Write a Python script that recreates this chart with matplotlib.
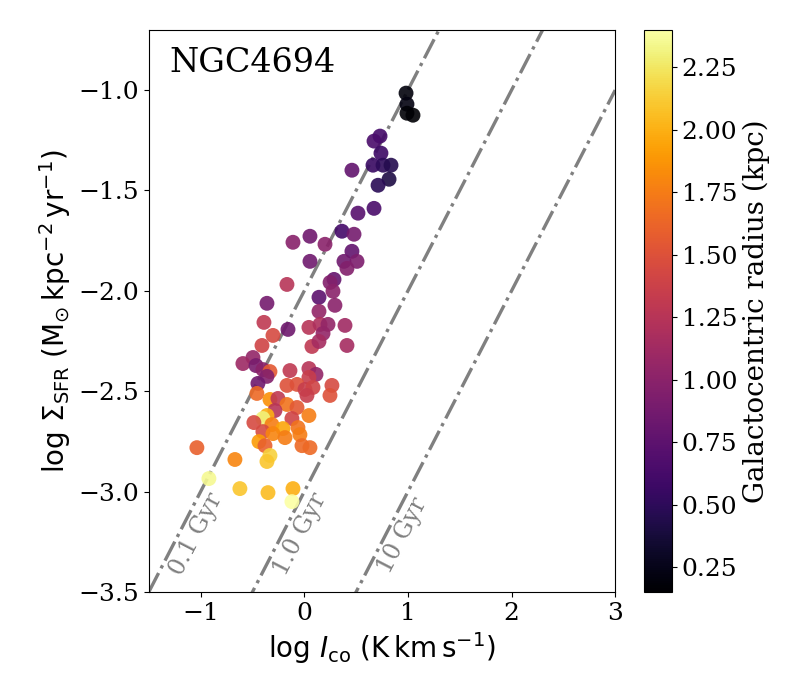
import numpy as np
import matplotlib
matplotlib.use('Agg')
import matplotlib.pyplot as plt

plt.rcParams['font.family'] = 'serif'
plt.rcParams['font.size'] = 18

#galaxy name
galaxy = 'NGC4694'

#log I_co (K km/s) per region
log_ico = [0.982, 0.991, 0.991, 1.049,
           0.731, 0.673, 0.740, 0.663, 0.760, 0.837, 0.818, 0.712, 0.460, 0.673,
           0.518, 0.364, 0.480, 0.055, -0.109, 0.200, 0.460, 0.383, 0.509, 0.412,
           0.055, 0.287, 0.249, 0.277, -0.167, 0.142, 0.296, -0.360, 0.142,
           -0.389, -0.157, 0.045, 0.152, 0.229, 0.393, 0.181, -0.302, -0.408, 0.074,
           0.142, 0.412, -0.495, -0.592, -0.466, -0.399, -0.331, -0.360, -0.447,
           -0.138, 0.045, 0.113, 0.045, -0.167, -0.070, 0.007, 0.084, 0.267, 0.248,
           0.026,
           -0.457, -0.331, -0.254, -0.167, -0.070, -0.283, -0.360, -0.399, -0.119,
           0.045, -0.486, -0.312, -0.399, -0.206, -0.061, -0.302, -0.186, -0.042,
           -0.437, -0.379, -0.022, 0.055, -1.036, -0.669, -0.331, -0.360, -0.920,
           -0.621, -0.350, -0.109, -0.119]

#log Sigma_SFR (Msun/kpc2/yr)
log_sfr = [-1.015, -1.070, -1.115, -1.125,
           -1.229, -1.254, -1.314, -1.374, -1.374, -1.374, -1.444, -1.474, -1.399, -1.589,
           -1.613, -1.703, -1.718, -1.728, -1.758, -1.768, -1.803, -1.853, -1.853, -1.888,
           -1.853, -1.943, -1.958, -2.002, -1.968, -2.032, -2.072, -2.062, -2.102,
           -2.157, -2.192, -2.182, -2.167, -2.167, -2.172, -2.212, -2.222, -2.272, -2.277,
           -2.252, -2.272, -2.332, -2.362, -2.372, -2.392, -2.402, -2.426, -2.461,
           -2.397, -2.387, -2.416, -2.431, -2.471, -2.466, -2.491, -2.481, -2.471, -2.521,
           -2.521,
           -2.511, -2.541, -2.536, -2.566, -2.581, -2.596, -2.621, -2.636, -2.636,
           -2.621, -2.656, -2.666, -2.701, -2.686, -2.681, -2.711, -2.731, -2.716,
           -2.751, -2.771, -2.771, -2.781, -2.781, -2.840, -2.820, -2.850, -2.935,
           -2.985, -3.005, -2.985, -3.050]

#galactocentric radius (kpc)
radius = [0.20, 0.22, 0.17, 0.15,
          0.62, 0.65, 0.58, 0.55, 0.50, 0.45, 0.42, 0.48, 0.78, 0.65,
          0.72, 0.62, 0.88, 0.85, 0.98, 1.00, 0.78, 0.85, 0.92, 0.95,
          0.85, 0.80, 0.95, 1.00, 1.25, 0.75, 1.00, 0.88, 1.05,
          1.30, 0.85, 1.25, 1.20, 1.05, 1.12, 1.05, 1.45, 1.40, 1.30,
          1.15, 1.15, 1.05, 1.10, 0.90, 1.00, 1.55, 0.95, 0.85,
          1.30, 1.25, 1.05, 1.35, 1.50, 1.50, 1.35, 1.40, 1.45, 1.50,
          1.35,
          1.65, 1.85, 1.30, 1.70, 1.55, 1.25, 2.00, 2.30, 1.40,
          1.75, 1.45, 1.75, 1.45, 1.95, 1.70, 1.80, 1.75, 1.75,
          1.90, 1.60, 1.65, 1.65, 1.60, 1.80, 2.15, 2.10, 2.35,
          2.10, 2.05, 2.00, 2.40]

#constant depletion time lines
tdep_labels = ['0.1 Gyr', '1.0 Gyr', '10 Gyr']
tdep_offsets = [-2.0, -3.0, -4.0]
tdep_label_x = [-1.04, -0.04, 0.95]
tdep_label_y = [-3.21, -3.21, -3.22]

fig = plt.figure(figsize=(8, 7), dpi=100)
ax = fig.add_axes([0.186, 0.1543, 0.583, 0.803])
cax = fig.add_axes([0.805, 0.1543, 0.035, 0.803])

xx = np.array([-1.5, 3.0])
for off in tdep_offsets:
    ax.plot(xx, xx + off, ls='-.', color='gray', lw=2.4, zorder=1)

sc = ax.scatter(log_ico, log_sfr, c=radius, cmap='inferno', vmin=0.15, vmax=2.40,
                s=115, alpha=0.9, edgecolors='none', zorder=2)

ax.set_xlim(-1.5, 3)
ax.set_ylim(-3.5, -0.7)
ax.set_xticks([-1, 0, 1, 2, 3])
ax.set_yticks([-3.5, -3.0, -2.5, -2.0, -1.5, -1.0])

#rotation of the lines on screen
fig.canvas.draw()
p0 = ax.transData.transform((0, -3))
p1 = ax.transData.transform((1, -2))
angle = np.degrees(np.arctan2(p1[1] - p0[1], p1[0] - p0[0]))
for lab, lx, ly in zip(tdep_labels, tdep_label_x, tdep_label_y):
    ax.text(lx, ly, lab, rotation=angle, color='gray', fontsize=17,
            ha='center', va='center', rotation_mode='anchor')

ax.text(0.045, 0.97, galaxy, transform=ax.transAxes, fontsize=24, va='top', ha='left')

ax.set_xlabel(r'$\log\,I_{\rm co}\ ({\rm K\,km\,s^{-1}})$', fontsize=20)
ax.set_ylabel(r'$\log\,\Sigma_{\rm SFR}\ ({\rm M_{\odot}\,kpc^{-2}\,yr^{-1}})$', fontsize=20)

cb = fig.colorbar(sc, cax=cax)
cb.solids.set_alpha(1)
cb.set_ticks([0.25, 0.5, 0.75, 1.0, 1.25, 1.5, 1.75, 2.0, 2.25])
cb.set_label('Galactocentric radius (kpc)', fontsize=20)

fig.savefig('out.png', dpi=100)
